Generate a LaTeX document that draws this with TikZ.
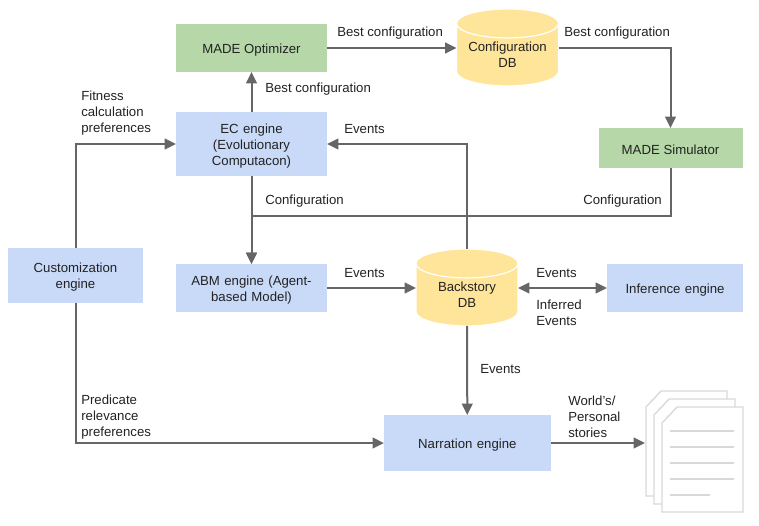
\documentclass[tikz,border=0pt]{standalone}
\usepackage{fontspec}
\setmainfont{Liberation Sans}
\usepackage{xcolor}
\usetikzlibrary{arrows.meta, shapes.geometric}
\definecolor{fBlue}{HTML}{C9DAF8}
\definecolor{fGreen}{HTML}{B6D7A8}
\definecolor{fYellow}{HTML}{FFE599}
\definecolor{fLine}{HTML}{666666}
\definecolor{fSheet}{HTML}{D9D9D9}
\definecolor{fText}{HTML}{222222}
\tikzstyle{fBox} = [rectangle, minimum height=36pt, text centered, text=fText, font=\fontsize{9.9}{12}\selectfont, outer sep=0pt, execute at begin node={\rule{0pt}{10pt}}]
\tikzstyle{fEngine} = [fBox, minimum width=113.25pt, text width=105pt, fill=fBlue]
\tikzstyle{fMade} = [fBox, minimum width=113.25pt, fill=fGreen]
\tikzstyle{fStore} = [cylinder, shape border rotate=90, aspect=0.5, minimum width=76.5pt, minimum height=57.75pt, inner sep=0pt, align=center, draw=white, line width=0.9pt, fill=fYellow, text=fText, font=\fontsize{9.9}{12}\selectfont, outer sep=0pt]
\tikzstyle{fLabel} = [anchor=west, align=left, inner sep=0pt, text=fText, font=\fontsize{9.9}{12}\selectfont]
\tikzstyle{fArrow} = [line width=1.5pt, draw=fLine, -{Triangle[length=8.5pt,width=8pt]}]
\tikzstyle{fPage} = [draw=fSheet, line width=1pt, fill=white]
\begin{document}
\begin{tikzpicture}[x=0.75pt, y=-0.75pt, node distance=72pt]
    \useasboundingbox (0,0) rectangle (759,525);
    \node (optimizer) [fMade] at (251.5,48) {MADE Optimizer};
    \node (ec) [fEngine, below of=optimizer, minimum height=48pt] {EC engine\\(Evolutionary\\Computacon)};
    \node (abm) [fEngine, below of=ec, yshift=-36pt] {ABM engine (Agent-\\based Model)};
    \node (customization) [fEngine, left of=abm, xshift=-60pt, yshift=9.4pt, minimum width=101.25pt, minimum height=41.25pt, text width=90pt] {Customization\\engine};
    \node (backstory) [fStore, right of=abm, xshift=89.6pt, yshift=-5.25pt] {Backstory\\DB};
    \node (inference) [fEngine, right of=abm, xshift=245.65pt, minimum width=102pt, text width=90pt] {Inference engine};
    \node (narration) [fEngine, right of=abm, xshift=89.9pt, yshift=-116.25pt, minimum width=125.25pt, minimum height=42pt] {Narration engine};
    \node (configdb) [fStore, right of=optimizer, xshift=120pt, yshift=-5.25pt] {\makebox[43.5pt]{Configuration}\\DB};
    \node (simulator) [fMade, right of=optimizer, xshift=242.25pt, yshift=-75pt, minimum width=108pt, minimum height=30pt] {MADE Simulator};
    \coordinate (merge) at (251.5,216);
    \coordinate (stories) at (645,443);

    % stack of pages
    \foreach \o in {0,8,16} {
        \draw [fPage] (646+\o,407+\o) -- (661+\o,391+\o) -- (727+\o,391+\o) -- (727+\o,496+\o) -- (646+\o,496+\o) -- cycle;
    }
    \foreach \y in {431,447,463,479} {
        \draw [draw=fSheet, line width=1pt] (670,\y) -- (734,\y);
    }
    \draw [draw=fSheet, line width=1pt] (670,495) -- (710,495);

    \draw [fArrow] (ec) -- (optimizer);
    \draw [fArrow] (optimizer) -- (optimizer -| configdb.west);
    \draw [fArrow] (optimizer -| configdb.east) -| (simulator);
    \draw [fArrow] (simulator) |- (merge) -- (abm);
    \draw [fArrow] (ec) -- (abm);
    \draw [fArrow] (backstory) |- (ec);
    \draw [fArrow] (customization.north -| 76,0) |- (ec);
    \draw [fArrow] (customization.south -| 76,0) |- (narration);
    \draw [fArrow] (abm) -- (abm -| backstory.west);
    \draw [line width=1.5pt, draw=fLine, {Triangle[length=8.5pt,width=8pt]}-{Triangle[length=8.5pt,width=8pt]}] (inference -| backstory.east) -- (inference);
    \draw [fArrow] (backstory) -- (narration);
    \draw [fArrow] (narration) -- (narration -| stories);

    \node (lbestone) [fLabel] at (337,33) {Best configuration};
    \node (lbesttwo) [fLabel] at (564,33) {Best configuration};
    \node (lbestthree) [fLabel] at (265,89) {Best configuration};
    \node (lfitness) [fLabel] at (81,113) {Fitness\\calculation\\preferences};
    \node (leventsec) [fLabel] at (344,129) {Events};
    \node (lconfigec) [fLabel] at (265,201) {Configuration};
    \node (lconfigsim) [fLabel] at (583,201) {Configuration};
    \node (leventsabm) [fLabel] at (344,273) {Events};
    \node (leventsinf) [fLabel] at (536,273) {Events};
    \node (linferred) [fLabel] at (536,313) {Inferred\\Events};
    \node (leventsnar) [fLabel] at (480,369) {Events};
    \node (lpredicate) [fLabel] at (81,417) {Predicate\\relevance\\preferences};
    \node (lworld) [fLabel] at (568,417) {World's/\\Personal\\stories};
\end{tikzpicture}
\end{document}
